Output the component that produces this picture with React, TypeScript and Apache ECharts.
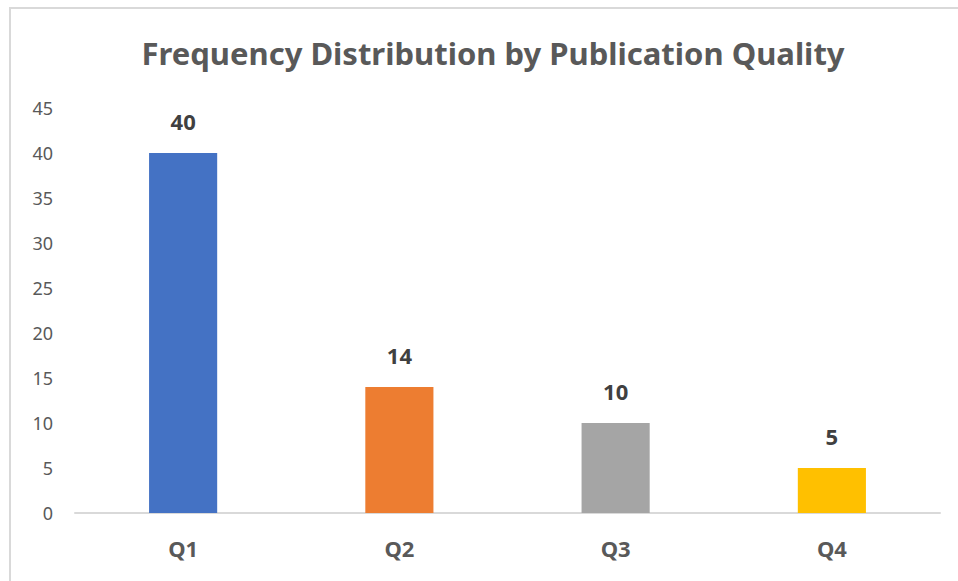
import React, { useEffect, useRef } from "react";
import * as echarts from "echarts";

const categories = ["Q1", "Q2", "Q3", "Q4"];
const values = [40, 14, 10, 5];
const barColors = ["#4472C4", "#ED7D31", "#A5A5A5", "#FFC000"];
const yTicks = { min: 0, max: 45, interval: 5 };
const titleText = "Frequency Distribution by Publication Quality";

const FONT = "'Noto Sans', 'Open Sans', sans-serif";

export default function App() {
  const ref = useRef<HTMLDivElement>(null);
  useEffect(() => {
    if (!ref.current) return;
    const chart = echarts.init(ref.current, undefined, { renderer: "svg" });
    chart.setOption({
      animation: false,
      backgroundColor: "#ffffff",
      title: {
        text: titleText,
        left: 488,
        textAlign: "center",
        top: 32,
        textStyle: { fontFamily: FONT, fontWeight: "bold", fontSize: 31, color: "#595959" },
      },
      graphic: [
        { type: "line", shape: { x1: 9, y1: 8, x2: 958, y2: 8 }, style: { stroke: "#D9D9D9", lineWidth: 2 } },
        { type: "line", shape: { x1: 10, y1: 8, x2: 10, y2: 581 }, style: { stroke: "#D9D9D9", lineWidth: 2 } },
      ],
      grid: { left: 75, right: 18, top: 108, bottom: 68 },
      xAxis: {
        type: "category",
        data: categories,
        axisLine: { show: true, lineStyle: { color: "#D9D9D9", width: 2 } },
        axisTick: { show: false },
        axisLabel: { margin: 24, fontFamily: FONT, fontWeight: "bold", fontSize: 22, color: "#595959" },
      },
      yAxis: {
        type: "value",
        min: yTicks.min,
        max: yTicks.max,
        interval: yTicks.interval,
        axisLine: { show: false },
        axisTick: { show: false },
        splitLine: { show: false },
        axisLabel: { margin: 22, fontFamily: FONT, fontSize: 18, color: "#595959" },
      },
      series: [
        {
          type: "bar",
          barWidth: "31.5%",
          data: values.map((v, i) => ({ value: v, itemStyle: { color: barColors[i] } })),
          label: {
            show: true,
            position: "top",
            distance: 21,
            fontFamily: FONT,
            fontWeight: "bold",
            fontSize: 22,
            color: "#404040",
          },
        },
      ],
    });
    return () => chart.dispose();
  }, []);
  return <div ref={ref} style={{ position: "fixed", left: 0, top: 0, width: 958, height: 581 }} />;
}
